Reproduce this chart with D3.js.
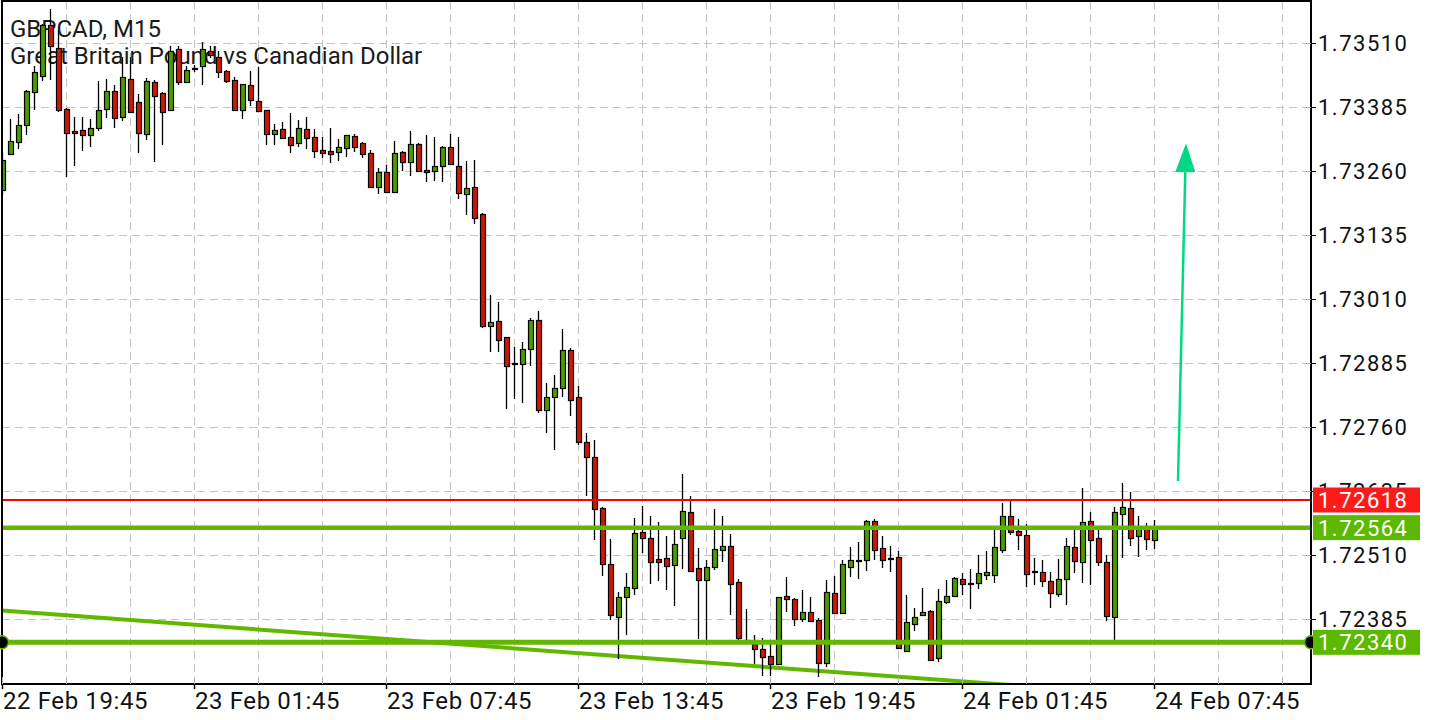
<!DOCTYPE html>
<html><head><meta charset="utf-8">
<script src="https://cdn.jsdelivr.net/npm/d3@7"></script>
<style>html,body{margin:0;padding:0;background:#fff;}svg{display:block}</style>
</head><body>
<svg id="chart" width="1440" height="720"></svg>
<script>
const titleLine1 = "GBPCAD, M15";
const titleLine2 = "Great Britain Pound vs Canadian Dollar";
const opens = [1.73224,1.73294,1.73317,1.73350,1.73415,1.73447,1.73546,1.73500,1.73382,1.73338,1.73340,1.73331,1.73344,1.73382,1.73416,1.73367,1.73441,1.73396,1.73333,1.73434,1.73413,1.73379,1.73499,1.73435,1.73459,1.73465,1.73494,1.73484,1.73455,1.73439,1.73380,1.73428,1.73398,1.73379,1.73333,1.73342,1.73327,1.73315,1.73343,1.73327,1.73301,1.73300,1.73298,1.73305,1.73329,1.73315,1.73296,1.73230,1.73258,1.73219,1.73298,1.73278,1.73314,1.73262,1.73261,1.73271,1.73308,1.73271,1.73216,1.73229,1.73177,1.72958,1.72967,1.72936,1.72886,1.72884,1.72913,1.72970,1.72793,1.72820,1.72837,1.72911,1.72819,1.72731,1.72702,1.72603,1.72493,1.72389,1.72429,1.72446,1.72555,1.72544,1.72503,1.72505,1.72492,1.72544,1.72595,1.72485,1.72462,1.72487,1.72521,1.72529,1.72458,1.72343,1.72337,1.72327,1.72313,1.72298,1.72431,1.72425,1.72386,1.72400,1.72384,1.72300,1.72437,1.72397,1.72488,1.72499,1.72500,1.72576,1.72524,1.72504,1.72507,1.72324,1.72376,1.72393,1.72402,1.72309,1.72419,1.72430,1.72464,1.72456,1.72456,1.72471,1.72472,1.72520,1.72586,1.72558,1.72549,1.72479,1.72477,1.72459,1.72434,1.72464,1.72527,1.72497,1.72576,1.72544,1.72496,1.72389,1.72591,1.72602,1.72547,1.72561,1.72539];
const highs = [1.73296,1.73363,1.73372,1.73418,1.73466,1.73548,1.73577,1.73536,1.73384,1.73367,1.73367,1.73363,1.73437,1.73441,1.73428,1.73484,1.73484,1.73410,1.73443,1.73439,1.73415,1.73505,1.73504,1.73465,1.73468,1.73512,1.73505,1.73494,1.73457,1.73444,1.73431,1.73455,1.73464,1.73380,1.73352,1.73356,1.73374,1.73361,1.73366,1.73343,1.73327,1.73344,1.73324,1.73331,1.73333,1.73318,1.73302,1.73266,1.73273,1.73320,1.73299,1.73339,1.73316,1.73331,1.73327,1.73309,1.73333,1.73327,1.73281,1.73283,1.73178,1.73019,1.73005,1.72937,1.72917,1.72927,1.72973,1.72988,1.72846,1.72863,1.72951,1.72915,1.72840,1.72749,1.72736,1.72605,1.72542,1.72438,1.72475,1.72583,1.72607,1.72587,1.72575,1.72548,1.72560,1.72669,1.72626,1.72524,1.72501,1.72600,1.72587,1.72552,1.72464,1.72406,1.72355,1.72348,1.72337,1.72429,1.72468,1.72427,1.72443,1.72429,1.72387,1.72462,1.72470,1.72501,1.72527,1.72535,1.72579,1.72581,1.72548,1.72529,1.72518,1.72433,1.72407,1.72447,1.72404,1.72445,1.72461,1.72468,1.72475,1.72484,1.72511,1.72519,1.72560,1.72612,1.72617,1.72581,1.72571,1.72505,1.72501,1.72477,1.72503,1.72544,1.72561,1.72641,1.72595,1.72560,1.72511,1.72605,1.72651,1.72634,1.72586,1.72573,1.72579];
const lows = [1.73214,1.73292,1.73304,1.73331,1.73379,1.73437,1.73439,1.73376,1.73248,1.73271,1.73299,1.73307,1.73338,1.73364,1.73344,1.73359,1.73374,1.73296,1.73322,1.73279,1.73312,1.73378,1.73429,1.73432,1.73454,1.73428,1.73482,1.73442,1.73433,1.73378,1.73362,1.73387,1.73377,1.73312,1.73312,1.73324,1.73296,1.73308,1.73303,1.73286,1.73286,1.73276,1.73281,1.73288,1.73298,1.73286,1.73228,1.73216,1.73218,1.73218,1.73260,1.73250,1.73259,1.73240,1.73241,1.73240,1.73273,1.73206,1.73174,1.73157,1.72954,1.72907,1.72908,1.72796,1.72815,1.72808,1.72879,1.72788,1.72749,1.72716,1.72819,1.72783,1.72726,1.72626,1.72539,1.72469,1.72384,1.72307,1.72355,1.72433,1.72514,1.72453,1.72460,1.72443,1.72410,1.72484,1.72478,1.72347,1.72334,1.72482,1.72496,1.72394,1.72341,1.72339,1.72298,1.72275,1.72275,1.72296,1.72400,1.72371,1.72379,1.72380,1.72273,1.72291,1.72396,1.72396,1.72467,1.72464,1.72480,1.72501,1.72486,1.72477,1.72328,1.72323,1.72363,1.72392,1.72304,1.72301,1.72415,1.72429,1.72432,1.72406,1.72445,1.72461,1.72456,1.72514,1.72549,1.72520,1.72449,1.72451,1.72449,1.72407,1.72429,1.72413,1.72475,1.72456,1.72452,1.72490,1.72381,1.72345,1.72505,1.72529,1.72507,1.72521,1.72523];
const closes = [1.73283,1.73320,1.73350,1.73416,1.73454,1.73545,1.73504,1.73379,1.73335,1.73335,1.73331,1.73344,1.73380,1.73416,1.73364,1.73444,1.73376,1.73335,1.73437,1.73408,1.73375,1.73494,1.73434,1.73457,1.73461,1.73499,1.73488,1.73454,1.73437,1.73380,1.73430,1.73400,1.73378,1.73333,1.73341,1.73325,1.73311,1.73344,1.73325,1.73300,1.73296,1.73294,1.73307,1.73330,1.73308,1.73294,1.73229,1.73258,1.73219,1.73296,1.73278,1.73313,1.73261,1.73258,1.73271,1.73308,1.73274,1.73217,1.73227,1.73169,1.72957,1.72966,1.72931,1.72880,1.72884,1.72913,1.72970,1.72793,1.72820,1.72837,1.72911,1.72814,1.72732,1.72702,1.72600,1.72493,1.72394,1.72429,1.72448,1.72554,1.72544,1.72496,1.72497,1.72490,1.72532,1.72596,1.72480,1.72462,1.72488,1.72522,1.72529,1.72454,1.72349,1.72345,1.72327,1.72311,1.72298,1.72428,1.72425,1.72386,1.72399,1.72381,1.72300,1.72438,1.72397,1.72493,1.72500,1.72500,1.72576,1.72520,1.72500,1.72502,1.72329,1.72380,1.72389,1.72400,1.72305,1.72420,1.72430,1.72466,1.72454,1.72455,1.72475,1.72477,1.72526,1.72586,1.72555,1.72550,1.72473,1.72478,1.72460,1.72436,1.72464,1.72529,1.72499,1.72575,1.72540,1.72497,1.72391,1.72595,1.72604,1.72544,1.72563,1.72542,1.72564];
const timeTickIndex = [0,24,48,72,96,120,144];
const timeTickLabels = ["22 Feb 19:45","23 Feb 01:45","23 Feb 07:45","23 Feb 13:45","23 Feb 19:45","24 Feb 01:45","24 Feb 07:45"];
const priceTicks = [1.73510,1.73385,1.73260,1.73135,1.73010,1.72885,1.72760,1.72635,1.72510,1.72385];
const redLevel = 1.72618;
const bidLevel = 1.72564;
const supportLevel = 1.72340;
const trendIdx = [0,144];
const trendPrice = [1.72402,1.72236];
const arrowIdx = [147,148];
const arrowPrice = [1.72655,1.73315];

const L=2,R=1311,T=1,B=684;
const svg=d3.select("#chart");
const x=d3.scaleLinear().domain([0,163.625]).range([L,R]);
const y=d3.scaleLinear().domain([1.722586,1.735926]).range([B,T]);
const FONT="Roboto, 'Noto Sans', sans-serif";
const GREEN_LINE="#62b800", CANDLE_G="#4c9a00", CANDLE_R="#c81a0c";

svg.append("defs").append("clipPath").attr("id","plot").append("rect")
  .attr("x",L).attr("y",T).attr("width",R-L).attr("height",B-T);

// grid
const grid=svg.append("g").attr("stroke","#c4c4c4").attr("stroke-width",1).attr("stroke-dasharray","8,5");
grid.selectAll("line.h").data(priceTicks).join("line")
  .attr("x1",L).attr("x2",R).attr("y1",d=>Math.round(y(d))+0.5).attr("y2",d=>Math.round(y(d))+0.5);
const vgrid=d3.range(8,164,8);
grid.selectAll("line.v").data(vgrid).join("line")
  .attr("x1",d=>Math.round(x(d))+0.5).attr("x2",d=>Math.round(x(d))+0.5).attr("y1",T).attr("y2",B);

// title
svg.append("text").attr("x",10).attr("y",37).attr("font-family",FONT).attr("font-size",24).attr("fill","#1a1a1a").text(titleLine1);
svg.append("text").attr("x",10).attr("y",64).attr("font-family",FONT).attr("font-size",24).attr("fill","#1a1a1a").text(titleLine2);

const plot=svg.append("g").attr("clip-path","url(#plot)");
// trendline
plot.append("line")
  .attr("x1",x(trendIdx[0])).attr("y1",y(trendPrice[0]))
  .attr("x2",x(trendIdx[1])).attr("y2",y(trendPrice[1]))
  .attr("stroke",GREEN_LINE).attr("stroke-width",4);

// candles
const data=opens.map((o,i)=>({i,o,h:highs[i],l:lows[i],c:closes[i]}));
const cand=plot.append("g").selectAll("g").data(data).join("g");
cand.append("line")
  .attr("x1",d=>Math.round(x(d.i))+0.5).attr("x2",d=>Math.round(x(d.i))+0.5)
  .attr("y1",d=>Math.round(y(d.h))).attr("y2",d=>Math.round(y(d.l)))
  .attr("stroke","#000").attr("stroke-width",1.3);
cand.append("rect")
  .attr("x",d=>Math.round(x(d.i))-1.5)
  .attr("width",5)
  .attr("y",d=>Math.round(y(Math.max(d.o,d.c)))+0.5)
  .attr("height",d=>Math.max(1,Math.round(y(Math.min(d.o,d.c)))-Math.round(y(Math.max(d.o,d.c)))))
  .attr("fill",d=>d.c>=d.o?CANDLE_G:CANDLE_R)
  .attr("stroke","#000").attr("stroke-width",1.2);

// horizontal levels
plot.append("line").attr("x1",L).attr("x2",R).attr("y1",y(redLevel)).attr("y2",y(redLevel))
  .attr("stroke","#ff0000").attr("stroke-width",2);
plot.append("line").attr("x1",L).attr("x2",R).attr("y1",y(bidLevel)).attr("y2",y(bidLevel))
  .attr("stroke",GREEN_LINE).attr("stroke-width",4.5);
plot.append("line").attr("x1",L).attr("x2",R).attr("y1",y(supportLevel)).attr("y2",y(supportLevel))
  .attr("stroke",GREEN_LINE).attr("stroke-width",5);

// arrow
{
  const x1=x(arrowIdx[0]),y1=y(arrowPrice[0]),x2=x(arrowIdx[1]),y2=y(arrowPrice[1]);
  const dx=x2-x1,dy=y2-y1,len=Math.hypot(dx,dy),ux=dx/len,uy=dy/len;
  const hl=29,hw=10;
  const bx=x2-ux*hl,by=y2-uy*hl;
  svg.append("line").attr("x1",x1).attr("y1",y1).attr("x2",bx).attr("y2",by)
    .attr("stroke","#00d982").attr("stroke-width",2.5);
  svg.append("path").attr("d",`M${x2},${y2}L${bx-uy*hw},${by+ux*hw}L${bx+uy*hw},${by-ux*hw}Z`)
    .attr("fill","#00d982");
}

// frame
svg.append("rect").attr("x",L).attr("y",T).attr("width",R-L).attr("height",B-T)
  .attr("fill","none").attr("stroke","#000").attr("stroke-width",2);

// support markers
svg.selectAll("circle.m").data([L,R]).join("circle")
  .attr("cx",d=>d).attr("cy",y(supportLevel)).attr("r",6.5)
  .attr("fill","#000").attr("stroke",GREEN_LINE).attr("stroke-width",1.5);

// right axis
const ra=svg.append("g");
ra.selectAll("line.in").data(priceTicks).join("line")
  .attr("x1",R-7).attr("x2",R).attr("y1",d=>Math.round(y(d))+0.5).attr("y2",d=>Math.round(y(d))+0.5)
  .attr("stroke","#b0b0b0");
ra.selectAll("line.out").data(priceTicks).join("line")
  .attr("x1",R).attr("x2",R+5).attr("y1",d=>Math.round(y(d))+0.5).attr("y2",d=>Math.round(y(d))+0.5)
  .attr("stroke","#000");
ra.selectAll("text").data(priceTicks).join("text")
  .attr("x",1318).attr("y",d=>y(d)+8).attr("font-family",FONT).attr("font-size",22)
  .attr("letter-spacing","1.5px").attr("fill","#111").text(d=>d.toFixed(5));

// bottom axis
const ba=svg.append("g");
ba.selectAll("line.minor").data(vgrid.concat([0])).join("line")
  .attr("x1",d=>Math.round(x(d))+0.5).attr("x2",d=>Math.round(x(d))+0.5).attr("y1",B-7).attr("y2",B)
  .attr("stroke","#b0b0b0");
ba.selectAll("line.major").data(timeTickIndex).join("line")
  .attr("x1",d=>Math.round(x(d))+0.5).attr("x2",d=>Math.round(x(d))+0.5).attr("y1",B).attr("y2",B+5)
  .attr("stroke","#000").attr("stroke-width",1.5);
ba.selectAll("text").data(timeTickIndex).join("text")
  .attr("x",d=>x(d)+1).attr("y",709).attr("font-family",FONT).attr("font-size",24)
  .attr("letter-spacing","0.6px").attr("fill","#111")
  .text((d,i)=>timeTickLabels[i]);

// level labels
const boxes=[{v:redLevel,fill:"#ff1a1a"},{v:bidLevel,fill:"#5cb800"},{v:supportLevel,fill:"#5cb800"}];
const bg=svg.append("g");
bg.selectAll("rect").data(boxes).join("rect")
  .attr("x",1313).attr("y",d=>y(d.v)-12.5).attr("width",107).attr("height",25).attr("fill",d=>d.fill);
bg.selectAll("text").data(boxes).join("text")
  .attr("x",1318).attr("y",d=>y(d.v)+8).attr("font-family",FONT).attr("font-size",22)
  .attr("letter-spacing","1.5px").attr("fill","#fff").text(d=>d.v.toFixed(5));
</script>
</body></html>
